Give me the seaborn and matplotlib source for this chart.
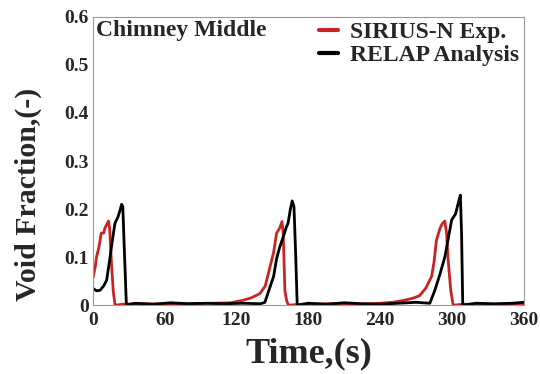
import pandas as pd
import matplotlib
matplotlib.use("Agg")
import matplotlib.pyplot as plt
import seaborn as sns

# ====== Data ======
exp_time = [0, 2, 3, 5, 7, 9, 10, 12, 13, 14, 15.5, 17, 18.5,
            25, 40, 60, 80, 100, 115, 125, 132,
            139.5, 144, 148, 151, 153.5, 156, 158, 159, 160.4, 162, 163.5,
            175, 200, 220, 240, 250, 260, 268,
            273, 278, 283, 285, 287, 290, 292, 294, 295.5, 296.8, 299, 301,
            310, 330, 350, 360]
exp_void = [0.056, 0.08, 0.10, 0.12, 0.15, 0.15, 0.16, 0.17, 0.175, 0.16, 0.088, 0.03, 0.0,
            0.002, 0.003, 0.002, 0.003, 0.004, 0.005, 0.01, 0.015,
            0.024, 0.04, 0.08, 0.11, 0.15, 0.16, 0.174, 0.15, 0.03, 0.008, 0.0,
            0.002, 0.003, 0.002, 0.004, 0.006, 0.01, 0.015,
            0.02, 0.035, 0.06, 0.09, 0.135, 0.16, 0.17, 0.175, 0.15, 0.094, 0.03, 0.0,
            0.002, 0.001, 0.002, 0.002]

relap_time = [0, 3, 6, 9, 11.5, 14, 16, 18.4, 21, 23, 24, 25, 26.5, 28,
              35, 50, 65, 80, 95, 110, 125, 140,
              143.7, 148, 151, 153.5, 156, 159, 161.7, 163, 165, 166.5, 168, 169.5, 170.7,
              180, 195, 210, 225, 240, 255, 270,
              281.5, 285.7, 290, 294, 297, 299.7, 303, 305, 307, 308, 309,
              320, 335, 350, 360]
relap_void = [0.035, 0.03, 0.031, 0.04, 0.052, 0.094, 0.13, 0.17, 0.184, 0.2, 0.21, 0.205, 0.1, 0.0,
              0.004, 0.002, 0.005, 0.003, 0.004, 0.003, 0.004, 0.003,
              0.006, 0.038, 0.06, 0.097, 0.12, 0.142, 0.163, 0.17, 0.2, 0.217, 0.205, 0.1, 0.0,
              0.004, 0.002, 0.005, 0.003, 0.002, 0.004, 0.006,
              0.004, 0.031, 0.065, 0.1, 0.14, 0.177, 0.19, 0.21, 0.229, 0.15, 0.0,
              0.004, 0.003, 0.004, 0.006]

series_names = ["SIRIUS-N Exp.", "RELAP Analysis"]
x_ticks = [0, 60, 120, 180, 240, 300, 360]
y_ticks = [0, 0.1, 0.2, 0.3, 0.4, 0.5, 0.6]
y_tick_labels = ["0", "0.1", "0.2", "0.3", "0.4", "0.5", "0.6"]

df = pd.concat([
    pd.DataFrame({"t": exp_time, "vf": exp_void, "series": series_names[0]}),
    pd.DataFrame({"t": relap_time, "vf": relap_void, "series": series_names[1]}),
])

# ====== Plot ======
sns.set_style("white")
plt.rcParams["font.family"] = ["Liberation Serif", "DejaVu Serif"]
plt.rcParams["font.weight"] = "bold"

fig = plt.figure(figsize=(5.4, 3.74), dpi=100)
ax = fig.add_axes([0.172, 0.184, 0.798, 0.771])

sns.lineplot(data=df, x="t", y="vf", hue="series", estimator=None, sort=False,
             palette={series_names[0]: "#c82424", series_names[1]: "black"},
             linewidth=2.0, ax=ax)

ax.set_xlim(0, 360)
ax.set_ylim(0, 0.6)
ax.set_xticks(x_ticks)
ax.set_yticks(y_ticks)
ax.set_yticklabels(y_tick_labels)
ax.tick_params(direction="in", length=3, width=0.8, color="#888888",
               labelsize=14)
ax.tick_params(axis="x", pad=5)
ax.tick_params(axis="y", pad=3)
for lbl in ax.get_xticklabels() + ax.get_yticklabels():
    lbl.set_fontweight("bold")
for sp in ax.spines.values():
    sp.set_color("#999999")
    sp.set_linewidth(0.8)

ax.set_xlabel("Time,(s)", fontsize=26, fontweight="bold", labelpad=6)
ax.set_ylabel("Void Fraction,(-)", fontsize=21.5, fontweight="bold")
ax.yaxis.set_label_coords(-0.118, 0.385)  # label sits a bit low in the original

ax.text(0.008, 0.99, "Chimney Middle", transform=ax.transAxes,
        fontsize=17, fontweight="bold", va="top", ha="left")

leg = ax.legend(loc="upper right", frameon=False, fontsize=17, handlelength=0.8,
                handletextpad=0.5, borderaxespad=0.05, labelspacing=0.05,
                borderpad=0.15)
for line in leg.get_lines():
    line.set_linewidth(3)

fig.savefig("out.png", dpi=100)
